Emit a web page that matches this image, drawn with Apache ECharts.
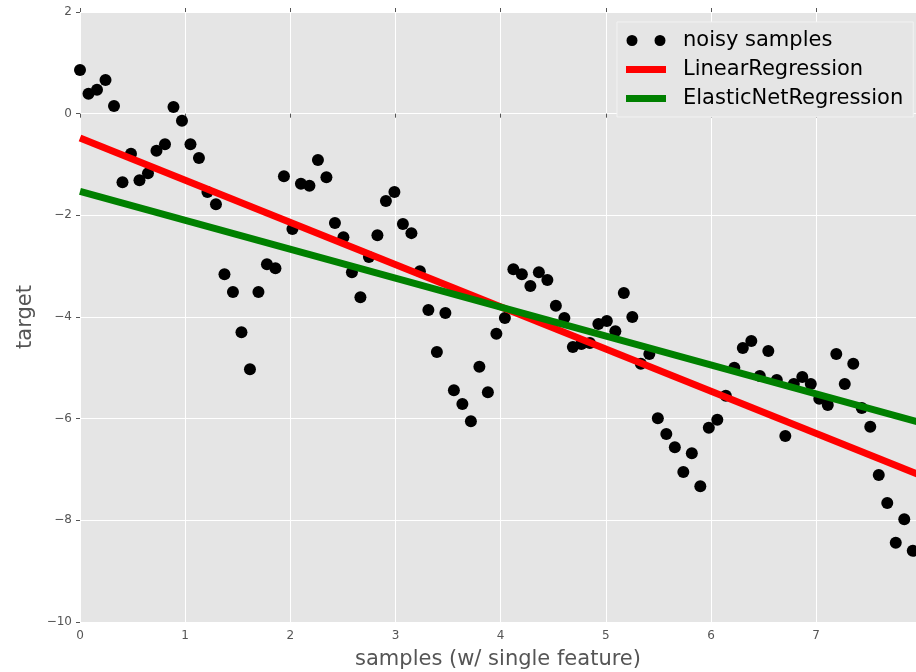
<!DOCTYPE html>
<html>
<head>
<meta charset="utf-8">
<script src="https://cdn.jsdelivr.net/npm/echarts@6/dist/echarts.min.js"></script>
<style>html,body{margin:0;padding:0;background:#fff}#c{width:916px;height:672px}</style>
</head>
<body>
<div id="c"></div>
<script>
// sample positions: index i -> x = i * 8/99 (read spacing from picture)
var sampleIndex = [];
for (var k = 0; k < 99; k++) sampleIndex.push(k);
var sampleStep = 8 / 99;
var noisyY = [
  0.86, 0.39, 0.47, 0.66, 0.15, -1.35, -0.79, -1.31, -1.17, -0.73,
  -0.60, 0.13, -0.14, -0.60, -0.87, -1.54, -1.78, -3.16, -3.51, -4.30,
  -5.03, -3.51, -2.96, -3.04, -1.23, -2.27, -1.38, -1.42, -0.91, -1.25,
  -2.15, -2.43, -3.12, -3.61, -2.82, -2.39, -1.72, -1.54, -2.17, -2.35,
  -3.10, -3.86, -4.69, -3.92, -5.44, -5.71, -6.05, -4.98, -5.48, -4.33,
  -4.02, -3.06, -3.16, -3.39, -3.12, -3.27, -3.78, -4.02, -4.59, -4.53,
  -4.51, -4.14, -4.08, -4.28, -3.53, -4.00, -4.92, -4.73, -5.99, -6.30,
  -6.56, -7.05, -6.68, -7.33, -6.18, -6.02, -5.55, -5.00, -4.61, -4.47,
  -5.16, -4.67, -5.24, -6.34, -5.32, -5.18, -5.32, -5.61, -5.73, -4.73,
  -5.32, -4.92, -5.79, -6.16, -7.11, -7.66, -8.44, -7.98, -8.60
];
var fitX = [0, 8];
var linearY = [-0.48, -7.12];
var elasticY = [-1.53, -6.08];
var xTicks = [0, 1, 2, 3, 4, 5, 6, 7];
var yTicks = [-10, -8, -6, -4, -2, 0, 2];

var scatterData = sampleIndex.map(function (i) { return [i * sampleStep, noisyY[i]]; });
var linData = fitX.map(function (x, i) { return [x, linearY[i]]; });
var elaData = fitX.map(function (x, i) { return [x, elasticY[i]]; });

var FONT = 'DejaVu Sans';
var minus = function (v) { return String(v).replace('-', '\u2212'); };
var barIcon = 'path://M0,0L40,0L40,7L0,7Z';

var chart = echarts.init(document.getElementById('c'), null, { renderer: 'canvas' });
chart.setOption({
  animation: false,
  backgroundColor: '#ffffff',
  grid: { left: 80, right: 0, top: 12, bottom: 50, outerBoundsMode: 'none', containLabel: false,
          show: true, backgroundColor: '#e5e5e5', borderWidth: 0 },
  xAxis: [{
    type: 'value', min: 0, max: 7.95, interval: 1,
    name: 'samples (w/ single feature)', nameLocation: 'middle', nameGap: 27,
    nameTextStyle: { fontFamily: FONT, fontSize: 21, color: '#555555' },
    axisLine: { show: false },
    axisTick: { show: true, inside: false, length: 4, lineStyle: { color: '#555555' } },
    axisLabel: { fontFamily: FONT, fontSize: 12, color: '#555555', margin: 8, formatter: minus, showMaxLabel: false },
    splitLine: { show: true, lineStyle: { color: '#ffffff', width: 1 } }
  }, {
    type: 'value', position: 'top', min: 0, max: 7.95, interval: 1,
    axisLine: { show: false },
    axisTick: { show: true, length: 4, lineStyle: { color: '#555555' } },
    axisLabel: { show: false }, splitLine: { show: false }
  }],
  yAxis: {
    type: 'value', min: -10, max: 2, interval: 2,
    name: 'target', nameLocation: 'middle', nameGap: 42,
    nameTextStyle: { fontFamily: FONT, fontSize: 21, color: '#555555' },
    axisLine: { show: false },
    axisTick: { show: true, length: 4, lineStyle: { color: '#555555' } },
    axisLabel: { fontFamily: FONT, fontSize: 12, color: '#555555', margin: 8, formatter: minus },
    splitLine: { show: true, lineStyle: { color: '#ffffff', width: 1 } }
  },
  legend: {
    left: 617, top: 22, orient: 'vertical',
    padding: [8, 10, 8, 9], itemGap: 8, itemWidth: 40, itemHeight: 11,
    backgroundColor: '#e5e5e5', borderColor: '#f2f2f2', borderWidth: 1,
    textStyle: { fontFamily: FONT, fontSize: 21, color: '#000000', padding: [0, 0, 0, 12] },
    data: [
      { name: 'noisy samples', icon: 'path://M0,5.5a5.5,5.5 0 1,0 11,0a5.5,5.5 0 1,0 -11,0zM28,5.5a5.5,5.5 0 1,0 11,0a5.5,5.5 0 1,0 -11,0z' },
      { name: 'LinearRegression', icon: barIcon },
      { name: 'ElasticNetRegression', icon: barIcon }
    ]
  },
  series: [
    {
      name: 'noisy samples', type: 'scatter', data: scatterData, symbolSize: 12, clip: true,
      itemStyle: { color: '#000000', opacity: 1 }, z: 3
    },
    {
      name: 'LinearRegression', type: 'line', data: linData, showSymbol: false, symbol: 'none', clip: true,
      lineStyle: { color: '#ff0000', width: 7 }, itemStyle: { color: '#ff0000' }, z: 4
    },
    {
      name: 'ElasticNetRegression', type: 'line', data: elaData, showSymbol: false, symbol: 'none', clip: true,
      lineStyle: { color: '#008000', width: 7 }, itemStyle: { color: '#008000' }, z: 4
    }
  ]
});
</script>
</body>
</html>
